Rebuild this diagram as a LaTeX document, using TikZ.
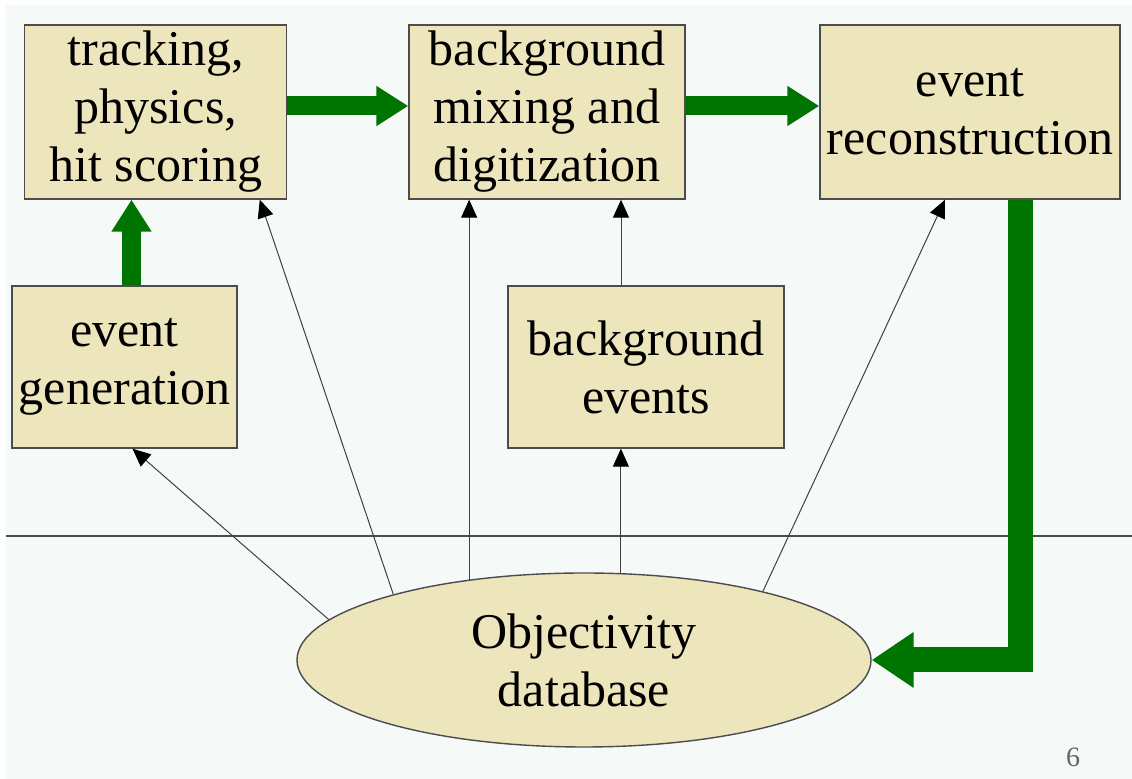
\documentclass[tikz,border=0pt]{standalone}
\usepackage{fontspec}
\setmainfont{Liberation Serif}
\usetikzlibrary{arrows.meta,shapes.geometric}
\definecolor{slidebg}{RGB}{245,249,247}
\definecolor{boxfill}{RGB}{237,229,188}
\definecolor{flowgreen}{RGB}{0,116,0}
\tikzset{
  stage/.style={draw=black!70, line width=0.7pt, fill=boxfill, align=center,
    inner sep=0pt, font=\fontsize{25}{29}\selectfont},
  flow/.style={draw=flowgreen, line width=9.5pt,
    -{Triangle[width=19pt,length=16pt]}},
  feed/.style={draw=black!75, line width=0.5pt,
    -{Triangle[width=8pt,length=9pt,color=black]}}
}
\begin{document}
\begin{tikzpicture}[x=0.5pt,y=-0.5pt]
    \fill[white] (0,0) rectangle (1132,779);
    \fill[slidebg] (6,5) rectangle (1132,779);
    \useasboundingbox (0,0) rectangle (1132,779);
    \draw[black!70, line width=0.8pt] (6,536) -- (1132,536);

    \node[stage, minimum width=131pt, minimum height=87pt] (track) at (155.75,112) {tracking,\\physics,\\hit scoring};
    \node[stage, minimum width=138pt, minimum height=87pt] (mix) at (547,112) {background\\mixing and\\digitization};
    \node[stage, minimum width=150pt, minimum height=87pt] (reco) at (970,112) {event\\reconstruction};
    \node[stage, minimum width=112.5pt, minimum height=81pt] (gen) at (124.5,367) {event\\generation};
    \node[stage, minimum width=138pt, minimum height=81pt] (bgev) at (646,367) {background\\events};
    \node[stage, ellipse, minimum width=287pt, minimum height=87pt] (db) at (584,660) {Objectivity\\database};

    % main chain
    \draw[flow] ([yshift=3pt]track.east) -- ([yshift=3pt]mix.west);
    \draw[flow] ([yshift=3pt]mix.east) -- ([yshift=3pt]reco.west);
    \coordinate (genout) at ([xshift=3.5pt]gen.north);
    \draw[flow] (genout) -- (genout |- track.south);
    \coordinate (recout) at ([xshift=25pt]reco.south);
    \draw[flow, line width=12.5pt, line join=miter, -{Triangle[width=26.5pt,length=21pt]}]
      (recout) -- (recout |- db.east) -- (db.east);

    % database feeds
    \coordinate (bgtop) at ([xshift=-12.5pt]bgev.north);
    \draw[feed] (bgtop) -- (bgtop |- mix.south);
    \draw[feed] (db.67) -- (db.67 |- bgev.south);
    \draw[feed] (db.145) -- (db.145 |- mix.south);
    \draw[feed] (db.171) -- ([xshift=4pt]gen.south);
    \draw[feed] (db.161) -- ([xshift=52pt]track.south);
    \draw[feed] (db.21) -- ([xshift=-12.5pt]reco.south);

    \node[font=\fontsize{14}{16}\selectfont, text=black!60] (pagenum) at (1073,757) {6};
\end{tikzpicture}
\end{document}
